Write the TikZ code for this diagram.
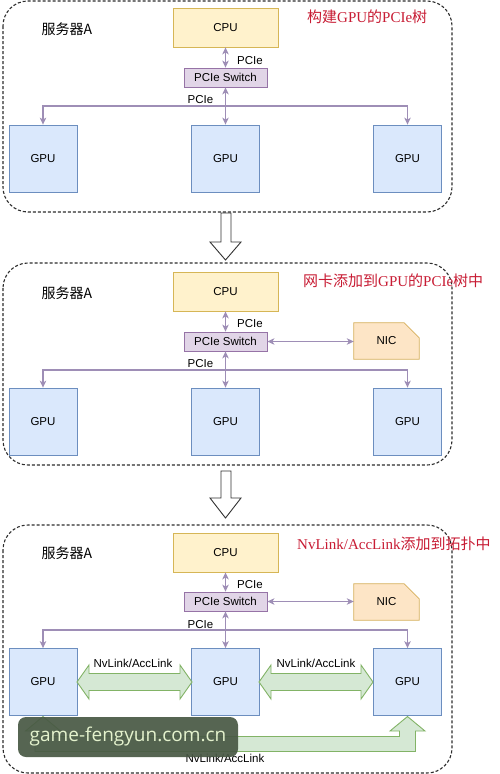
\documentclass[tikz,border=0pt]{standalone}
\usepackage{fontspec}
\setmainfont{Liberation Sans}
\newfontfamily\cjk{Noto Sans CJK SC}
\newfontfamily\tnr{Liberation Serif}
\newfontfamily\wmfont{Open Sans}
\usetikzlibrary{arrows.meta,calc}
\definecolor{cpuf}{RGB}{255,242,204}
\definecolor{cpud}{RGB}{214,182,86}
\definecolor{swf}{RGB}{225,213,231}
\definecolor{swd}{RGB}{150,115,166}
\definecolor{gpuf}{RGB}{218,232,252}
\definecolor{gpud}{RGB}{108,142,191}
\definecolor{nicf}{RGB}{253,229,198}
\definecolor{nicd}{RGB}{214,175,90}
\definecolor{grf}{RGB}{213,232,212}
\definecolor{grd}{RGB}{130,179,102}
\definecolor{pcol}{RGB}{158,142,182}
\definecolor{ttl}{RGB}{200,28,52}
\definecolor{wmbg}{RGB}{72,88,68}
\definecolor{wmtx}{RGB}{228,242,205}
\begin{document}
\begin{tikzpicture}[x=1pt,y=-1pt,
  lbl/.style={font=\fontsize{11.5}{13}\selectfont, inner sep=0pt},
  box/.style={draw, line width=0.8pt, inner sep=0pt, font=\fontsize{11.5}{13}\selectfont},
  cpu/.style={box, fill=cpuf, draw=cpud, minimum width=105pt, minimum height=39pt},
  sw/.style={box, fill=swf, draw=swd, minimum width=83pt, minimum height=19pt},
  gpu/.style={box, fill=gpuf, draw=gpud, minimum width=68pt, minimum height=67pt},
  nicbox/.style={inner sep=0pt, minimum width=65pt, minimum height=36pt, font=\fontsize{11.5}{13}\selectfont},
  srv/.style={font=\cjk\fontsize{14}{16}\selectfont, inner sep=0pt},
  ttlstyle/.style={font=\fontsize{15}{17}\selectfont, text=ttl, inner sep=0pt, anchor=west},
  pc/.style={draw=pcol, line width=1.1pt, {Stealth[length=7pt,width=6.5pt,inset=2pt]}-{Stealth[length=7pt,width=6.5pt,inset=2pt]}},
  pcone/.style={draw=pcol, line width=1.1pt, -{Stealth[length=7pt,width=6.5pt,inset=2pt]}},
  panel/.style={draw={rgb,255:red,45;green,45;blue,45}, line width=1.1pt, dash pattern=on 3pt off 2pt, rounded corners=25pt},
  downarr/.style={draw={rgb,255:red,50;green,50;blue,50}, line width=0.9pt, fill=white, line join=miter},
  green/.style={draw=grd, fill=grf, line width=0.9pt, line join=miter}
]
\fill[white] (0,0) rectangle (500,774);
\useasboundingbox (0,0) rectangle (500,774);

% ---------- Panel 1 ----------
\draw[panel] (3,1) rectangle (452,212);
\node[cpu] (cpu1) at (225.5,27.5) {CPU};
\node[srv] at (67,29) {服务器A};
\node[ttlstyle] at (307,17) {{\cjk 构建}{\tnr GPU}{\cjk 的}{\tnr PCIe}{\cjk 树}};
\node[sw] (sw1) at (225.5,77.5) {PCIe Switch};
\node[gpu] (g11) at (43,158.5) {GPU};
\node[gpu] (g12) at (225.5,158.5) {GPU};
\node[gpu] (g13) at (407.5,158.5) {GPU};
\coordinate (bus1) at (225.5,106);
\draw[pc] (cpu1) -- (sw1);
\draw[pc] (sw1) -- (g12);
\draw[pcone] (bus1) -| (g11);
\draw[pcone] (bus1) -| (g13);
\node[lbl, anchor=west] at (237,61) {PCIe};
\node[lbl] at (200.5,100) {PCIe};

% ---------- Down arrow 1 ----------
\draw[downarr] (221,213) -- (231,213) -- (231,242) -- (241,242) -- (225.5,260) -- (210,242) -- (221,242) -- cycle;

% ---------- Panel 2 ----------
\draw[panel] (3,263) rectangle (452,465);
\node[cpu] (cpu2) at (225.5,291.5) {CPU};
\node[srv] at (67,293) {服务器A};
\node[ttlstyle] at (303,281) {{\cjk 网卡添加到}{\tnr GPU}{\cjk 的}{\tnr PCIe}{\cjk 树中}};
\node[sw] (sw2) at (225.5,341.5) {PCIe Switch};
\node[nicbox] (nic2) at (386.5,341) {};
\filldraw[fill=nicf, draw=nicd, line width=0.8pt] (nic2.north west) -- ($(nic2.north east)+(-15pt,0pt)$) -- ($(nic2.north east)+(0pt,-15pt)$) -- (nic2.south east) -- (nic2.south west) -- cycle;
\node[nicbox] at (nic2) {NIC};
\node[gpu] (g21) at (43,421.5) {GPU};
\node[gpu] (g22) at (225.5,421.5) {GPU};
\node[gpu] (g23) at (407.5,421.5) {GPU};
\coordinate (bus2) at (225.5,370);
\draw[pc] (cpu2) -- (sw2);
\draw[pc] (sw2) -- (g22);
\draw[pcone] (bus2) -| (g21);
\draw[pcone] (bus2) -| (g23);
\draw[pc] (sw2.east) -- (sw2.east -| nic2.west);
\node[lbl, anchor=west] at (237,324) {PCIe};
\node[lbl] at (200.5,364) {PCIe};

% ---------- Down arrow 2 ----------
\draw[downarr] (221,471) -- (231,471) -- (231,498) -- (241,498) -- (225.5,518) -- (210,498) -- (221,498) -- cycle;

% ---------- Panel 3 ----------
\draw[panel] (3,525) rectangle (452,773);
\node[cpu] (cpu3) at (225.5,552.5) {CPU};
\node[srv] at (67,553) {服务器A};
\node[ttlstyle] at (297,544) {{\tnr NvLink/AccLink}{\cjk 添加到拓扑中}};
\node[sw] (sw3) at (225.5,601.5) {PCIe Switch};
\node[nicbox] (nic3) at (386.5,602) {};
\filldraw[fill=nicf, draw=nicd, line width=0.8pt] (nic3.north west) -- ($(nic3.north east)+(-15pt,0pt)$) -- ($(nic3.north east)+(0pt,-15pt)$) -- (nic3.south east) -- (nic3.south west) -- cycle;
\node[nicbox] at (nic3) {NIC};
\node[gpu] (g31) at (43,682) {GPU};
\node[gpu] (g32) at (225.5,682) {GPU};
\node[gpu] (g33) at (407.5,682) {GPU};
\coordinate (bus3) at (225.5,630);
\draw[pc] (cpu3) -- (sw3);
\draw[pc] (sw3) -- (g32);
\draw[pcone] (bus3) -| (g31);
\draw[pcone] (bus3) -| (g33);
\draw[pc] (sw3.east) -- (sw3.east -| nic3.west);
\node[lbl, anchor=west] at (237,585) {PCIe};
\node[lbl] at (200.5,625) {PCIe};

% green NvLink arrows
\draw[green] (77,682) -- (89,665) -- (89,673.5) -- (180,673.5) -- (180,665) -- (192,682) -- (180,699) -- (180,690.5) -- (89,690.5) -- (89,699) -- cycle;
\draw[green] (259,682) -- (271,665) -- (271,673.5) -- (361,673.5) -- (361,665) -- (373,682) -- (361,699) -- (361,690.5) -- (271,690.5) -- (271,699) -- cycle;
\draw[green] (43,716.5) -- (60.5,731) -- (51,731) -- (51,736.5) -- (399.5,736.5) -- (399.5,731) -- (390,731) -- (407.5,716.5) -- (425,731) -- (415.5,731) -- (415.5,751.5) -- (35,751.5) -- (35,731) -- (25.5,731) -- cycle;
\node[lbl] at (133,663) {NvLink/AccLink};
\node[lbl] at (316,663) {NvLink/AccLink};
\node[lbl] at (225,758) {NvLink/AccLink};

% watermark overlay
\fill[wmbg, fill opacity=0.92, rounded corners=8pt] (18,717) rectangle (238,757);
\node[font=\wmfont\fontsize{19}{21}\selectfont, text=wmtx, inner sep=0pt] at (128,737) {game-fengyun.com.cn};
\end{tikzpicture}
\end{document}
